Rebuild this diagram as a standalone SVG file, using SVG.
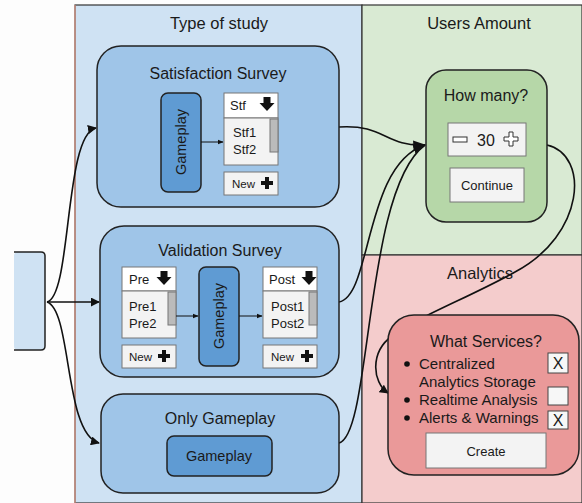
<svg xmlns="http://www.w3.org/2000/svg" width="582" height="503" viewBox="0 0 582 503">
<style>
text{font-family:"Liberation Sans",Arial,sans-serif;fill:#1a1a1a}
.title{font-size:16.5px;text-anchor:middle}
.sub{font-size:16px;text-anchor:middle}
.lt{font-size:15px;text-anchor:start}
.item{font-size:13px}
.gp{font-size:14.5px;text-anchor:middle}
.mid{text-anchor:middle}
.small{font-size:11.5px}
.panel{stroke:#333;stroke-width:1.2}
.box{stroke:#222;stroke-width:1.5}
.ui{stroke:#777;stroke-width:1}
.conn{fill:none;stroke:#111;stroke-width:1.6}
.thin{fill:none;stroke:#111;stroke-width:1}
</style>
<defs>
<marker id="ah" viewBox="0 0 10 10" refX="9" refY="5" markerWidth="9" markerHeight="9" markerUnits="userSpaceOnUse" orient="auto"><path d="M0,0 L10,5 L0,10 z" fill="#111"/></marker>
<marker id="ahL" viewBox="0 0 10 10" refX="9" refY="5" markerWidth="13" markerHeight="13" markerUnits="userSpaceOnUse" orient="auto"><path d="M0,1 L10,5 L0,9 z" fill="#111"/></marker>
<marker id="ahs" viewBox="0 0 10 10" refX="9" refY="5" markerWidth="6" markerHeight="6" markerUnits="userSpaceOnUse" orient="auto"><path d="M0,1 L10,5 L0,9 z" fill="#111"/></marker>
<g id="down"><path d="M-3.5,-7 h7 v6 h4 l-7.5,8 l-7.5,-8 h4 z" fill="#111"/></g>
<g id="plus"><path d="M-2,-6 h4 v4 h4 v4 h-4 v4 h-4 v-4 h-4 v-4 h4 z" fill="#111"/></g>
</defs>
<rect width="582" height="503" fill="#fdfdfd"/>
<g id="panel-study">
<rect x="75" y="5" width="287" height="498" fill="#cfe2f3" class="panel"/>
<line x1="75" y1="5" x2="75" y2="503" stroke="#e39a88" stroke-width="1.2"/>
<text class="title" x="219" y="29">Type of study</text>
</g>
<g id="panel-users">
<rect x="362" y="5" width="220" height="250" fill="#d9ead3" class="panel"/>
<text class="title" x="479" y="29">Users Amount</text>
</g>
<g id="panel-analytics">
<rect x="362" y="255" width="220" height="248" fill="#f4cccc" class="panel"/>
<text class="title" x="480" y="279">Analytics</text>
</g>
<g id="start">
<rect x="14" y="252" width="31" height="98" rx="4" fill="#cfe2f3"/>
<path d="M14,252 H41 Q45,252 45,256 V346 Q45,350 41,350 H14" fill="none" stroke="#222" stroke-width="1.5"/>
</g>
<g id="connectors">
<path class="conn" d="M47,302 C72,296 64,134 96,128" marker-end="url(#ah)"/>
<path class="conn" d="M47,302 L99,302" marker-end="url(#ah)"/>
<path class="conn" d="M47,302 C72,310 64,434 99,443" marker-end="url(#ah)"/>
<path class="conn" d="M339,127 C385,124 385,147 425,145" marker-end="url(#ahL)"/>
<path class="conn" d="M339,302 C372,296 364,165 425,145" marker-end="url(#ahL)"/>
<path class="conn" d="M339,443 C372,435 364,190 425,145"/>
<path class="conn" d="M547,145 C590,155 585,235 515,272 C470,297 415,318 392,336 C370,352 372,382 388,393" marker-end="url(#ah)"/>
</g>
<g id="satisfaction">
<rect x="97" y="46" width="242" height="161" rx="24" fill="#9fc5e8" class="box"/>
<text class="sub" x="218" y="79">Satisfaction Survey</text>
<rect x="161" y="93" width="40" height="99" rx="7" fill="#5f9bd3" class="box"/>
<text class="gp" transform="translate(186,142) rotate(-90)">Gameplay</text>
<path class="thin" d="M201,142 L223,142" marker-end="url(#ahs)"/>
<rect x="224" y="93" width="54" height="25" fill="#fff" class="ui"/>
<text class="item" x="230" y="110">Stf</text>
<use href="#down" x="267" y="104"/>
<rect x="224" y="118" width="54" height="47" fill="#f3f3f3" class="ui"/>
<rect x="270" y="119" width="8" height="33" fill="#bbb" class="ui"/>
<text class="item" x="233" y="137">Stf1</text>
<text class="item" x="233" y="154">Stf2</text>
<rect x="224" y="172" width="54" height="23" fill="#f3f3f3" class="ui"/>
<text class="small" x="232" y="188">New</text>
<use href="#plus" x="267" y="183"/>
</g>
<g id="validation">
<rect x="100" y="226" width="239" height="151" rx="24" fill="#9fc5e8" class="box"/>
<text class="sub" x="220" y="256">Validation Survey</text>
<rect x="122" y="267" width="54" height="24" fill="#fff" class="ui"/>
<text class="item" x="129" y="284">Pre</text>
<use href="#down" x="164" y="278"/>
<rect x="122" y="291" width="54" height="47" fill="#f3f3f3" class="ui"/>
<rect x="168" y="292" width="8" height="33" fill="#bbb" class="ui"/>
<text class="item" x="129" y="311">Pre1</text>
<text class="item" x="129" y="328">Pre2</text>
<rect x="122" y="345" width="54" height="23" fill="#f3f3f3" class="ui"/>
<text class="small" x="129" y="361">New</text>
<use href="#plus" x="164" y="356"/>
<rect x="199" y="267" width="40" height="99" rx="7" fill="#5f9bd3" class="box"/>
<text class="gp" transform="translate(224,316) rotate(-90)">Gameplay</text>
<path class="thin" d="M176,316 L198,316" marker-end="url(#ahs)"/>
<path class="thin" d="M239,316 L262,316" marker-end="url(#ahs)"/>
<rect x="263" y="267" width="54" height="24" fill="#fff" class="ui"/>
<text class="item" x="269" y="284">Post</text>
<use href="#down" x="309" y="278"/>
<rect x="263" y="291" width="54" height="47" fill="#f3f3f3" class="ui"/>
<rect x="309" y="292" width="8" height="33" fill="#bbb" class="ui"/>
<text class="item" x="271" y="311">Post1</text>
<text class="item" x="271" y="328">Post2</text>
<rect x="263" y="345" width="54" height="23" fill="#f3f3f3" class="ui"/>
<text class="small" x="271" y="361">New</text>
<use href="#plus" x="307" y="356"/>
</g>
<g id="only-gameplay">
<rect x="101" y="394" width="238" height="99" rx="22" fill="#9fc5e8" class="box"/>
<text class="sub" x="220" y="424">Only Gameplay</text>
<rect x="167" y="436" width="105" height="40" rx="7" fill="#5f9bd3" class="box"/>
<text class="gp" x="219" y="461">Gameplay</text>
</g>
<g id="how-many">
<rect x="426" y="70" width="121" height="152" rx="20" fill="#b6d7a8" class="box"/>
<text class="sub" x="486" y="101">How many?</text>
<rect x="448" y="123" width="78" height="33" fill="#f3f3f3" class="ui"/>
<rect x="453" y="137" width="14" height="5" fill="#fff" stroke="#333" stroke-width="1"/>
<text class="sub" x="486" y="146">30</text>
<path d="M509,132 h4 v5 h5 v4 h-5 v5 h-4 v-5 h-5 v-4 h5 z" fill="#fff" stroke="#333" stroke-width="1"/>
<rect x="450" y="168" width="74" height="34" fill="#f3f3f3" class="ui"/>
<text class="item mid" x="487" y="190">Continue</text>
</g>
<g id="what-services">
<rect x="388" y="315" width="191" height="160" rx="26" fill="#ea9999" class="box"/>
<text class="sub" x="486" y="347">What Services?</text>
<circle cx="407" cy="364" r="2.8" fill="#111"/>
<text class="lt" x="419" y="369">Centralized</text>
<text class="lt" x="419" y="387">Analytics Storage</text>
<circle cx="407" cy="400" r="2.8" fill="#111"/>
<text class="lt" x="419" y="405">Realtime Analysis</text>
<circle cx="407" cy="418" r="2.8" fill="#111"/>
<text class="lt" x="419" y="423">Alerts &amp; Warnings</text>
<rect x="548" y="353" width="20" height="20" fill="#f7f7f7" stroke="#444" stroke-width="1"/>
<text class="sub" x="558" y="369">X</text>
<rect x="548" y="387" width="20" height="18" fill="#f7f7f7" stroke="#444" stroke-width="1"/>
<rect x="548" y="411" width="20" height="18" fill="#f7f7f7" stroke="#444" stroke-width="1"/>
<text class="sub" x="558" y="426">X</text>
<rect x="426" y="433" width="120" height="35" fill="#f3f3f3" class="ui"/>
<text class="item mid" x="486" y="456">Create</text>
</g>
</svg>
